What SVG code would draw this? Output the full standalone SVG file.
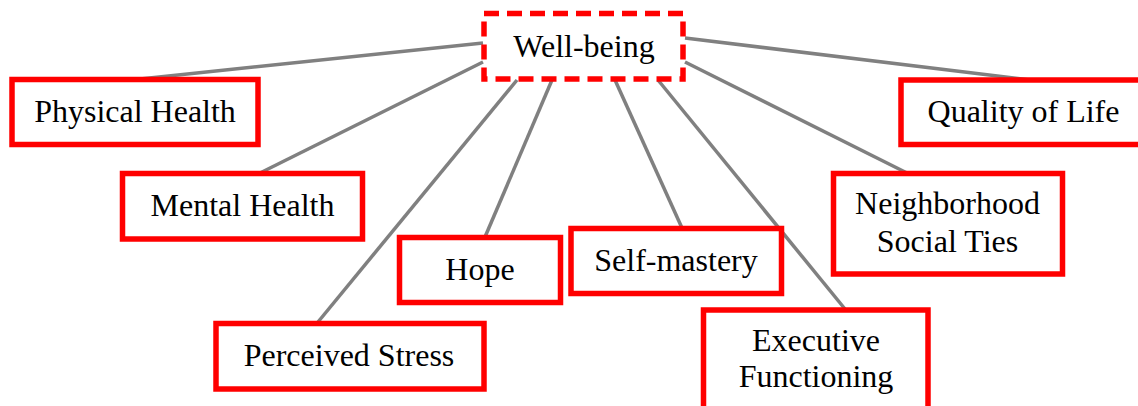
<svg xmlns="http://www.w3.org/2000/svg" width="1138" height="406" viewBox="0 0 1138 406">
<style>
.box{fill:#fff;stroke:#ff0000;stroke-width:5.5}
.dash{stroke-dasharray:15 8}
.lbl{font-family:"Liberation Serif","Times New Roman",serif;font-size:32px;fill:#000;text-anchor:middle}
.conn line{stroke:#808080;stroke-width:3.5}
</style>
<rect width="1138" height="406" fill="#fff"/>
<g id="connectors" class="conn">
<line x1="483" y1="43" x2="140" y2="79"/>
<line x1="483" y1="62" x2="260" y2="173"/>
<line x1="517" y1="80" x2="318" y2="322"/>
<line x1="552" y1="80" x2="485" y2="237"/>
<line x1="615" y1="80" x2="682" y2="228"/>
<line x1="658" y1="80" x2="845" y2="309"/>
<line x1="685" y1="62" x2="907" y2="173"/>
<line x1="685" y1="38" x2="1030" y2="80"/>
</g>
<g id="wellbeing">
<rect class="box dash" x="484" y="13.5" width="199" height="65.5"/>
<text class="lbl" x="584" y="56.5">Well-being</text>
</g>
<g id="physical-health">
<rect class="box" x="12" y="79.5" width="246" height="65"/>
<text class="lbl" x="135" y="122">Physical Health</text>
</g>
<g id="mental-health">
<rect class="box" x="122.5" y="173.5" width="240" height="65.5"/>
<text class="lbl" x="242.5" y="216">Mental Health</text>
</g>
<g id="perceived-stress">
<rect class="box" x="216" y="323.5" width="268" height="65.5"/>
<text class="lbl" x="349" y="366">Perceived Stress</text>
</g>
<g id="hope">
<rect class="box" x="399.5" y="237.5" width="161" height="65"/>
<text class="lbl" x="480" y="280">Hope</text>
</g>
<g id="self-mastery">
<rect class="box" x="571" y="228.5" width="210.5" height="65"/>
<text class="lbl" x="676" y="271">Self-mastery</text>
</g>
<g id="executive-functioning">
<rect class="box" x="703.5" y="310" width="224.5" height="104"/>
<text class="lbl" x="816" y="351">Executive</text>
<text class="lbl" x="816" y="387">Functioning</text>
</g>
<g id="neighborhood-social-ties">
<rect class="box" x="833.5" y="173.5" width="229" height="100.5"/>
<text class="lbl" x="947.5" y="214">Neighborhood</text>
<text class="lbl" x="947.5" y="251.5">Social Ties</text>
</g>
<g id="quality-of-life">
<rect class="box" x="901" y="80" width="245" height="64.5"/>
<text class="lbl" x="1023.5" y="122">Quality of Life</text>
</g>
</svg>
